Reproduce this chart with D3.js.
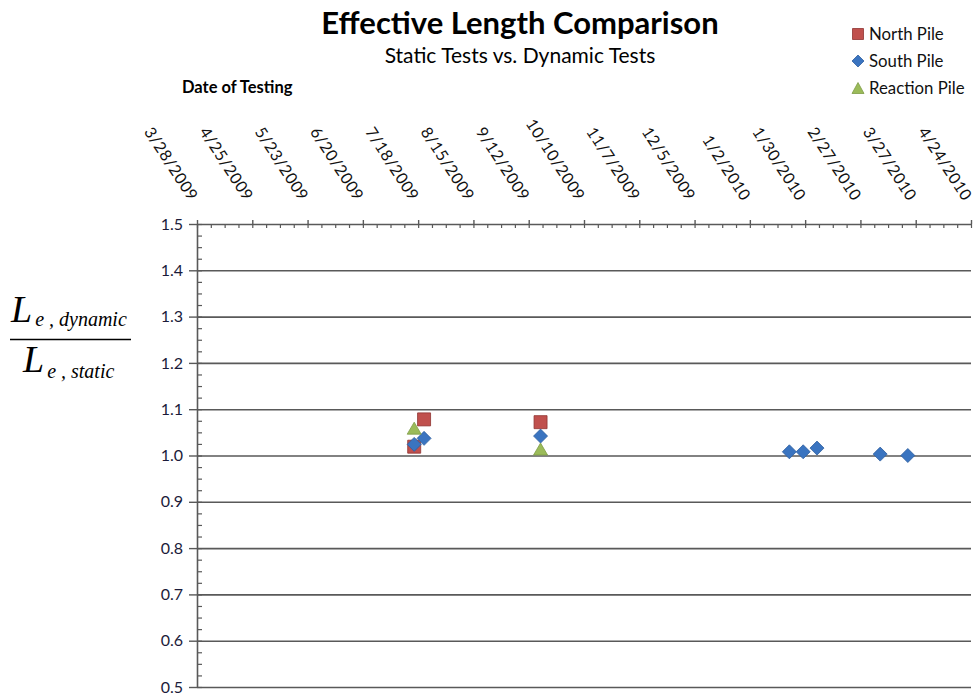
<!DOCTYPE html>
<html>
<head>
<meta charset="utf-8">
<script src="https://cdn.jsdelivr.net/npm/d3@7"></script>
<style>
  body { margin: 0; background: #fff; }
  svg { display: block; }
</style>
</head>
<body>
<svg id="chart" width="977" height="696"></svg>
<script>
// Effective length ratio (dynamic / static) per pile and test date
const northDates  = ["2009-07-16", "2009-07-21", "2009-09-18"];
const northValues = [1.019, 1.078, 1.072];

const southDates  = ["2009-07-16", "2009-07-21", "2009-09-18", "2010-01-22",
                     "2010-01-29", "2010-02-05", "2010-03-09", "2010-03-23"];
const southValues = [1.024, 1.037, 1.042, 1.008, 1.008, 1.016, 1.003, 1.000];

const reactionDates  = ["2009-07-16", "2009-09-18"];
const reactionValues = [1.059, 1.014];

const dateTickLabels = ["3/28/2009", "4/25/2009", "5/23/2009", "6/20/2009", "7/18/2009",
                        "8/15/2009", "9/12/2009", "10/10/2009", "11/7/2009", "12/5/2009",
                        "1/2/2010", "1/30/2010", "2/27/2010", "3/27/2010", "4/24/2010"];
const yTickValues = [0.5, 0.6, 0.7, 0.8, 0.9, 1.0, 1.1, 1.2, 1.3, 1.4, 1.5];

const seriesNames = ["North Pile", "South Pile", "Reaction Pile"];

const sans = "Lato, 'Open Sans', sans-serif";
const axisColor = "#595959";

const svg = d3.select("#chart");

const parseIso = d3.utcParse("%Y-%m-%d");
const parseTick = d3.utcParse("%m/%d/%Y");
const fmtTick = d3.utcFormat("%-m/%-d/%Y");

const plot = { left: 197, right: 971, top: 224, bottom: 687 };

const majorDates = dateTickLabels.map(parseTick);
const x = d3.scaleUtc()
  .domain([majorDates[0], majorDates[majorDates.length - 1]])
  .range([plot.left, plot.right]);
const y = d3.scaleLinear().domain([0.5, 1.5]).range([plot.bottom, plot.top]);

// weekly minor ticks along the date axis
const spanDays = d3.utcDay.count(majorDates[0], majorDates[majorDates.length - 1]);
const minorDates = d3.range(0, spanDays + 1, 7).map(d => d3.utcDay.offset(majorDates[0], d));
const minorY = d3.range(0, 41).map(i => 0.5 + i * 0.025);

// horizontal gridlines
svg.append("g")
  .attr("transform", `translate(${plot.left},0)`)
  .call(d3.axisLeft(y).tickValues(yTickValues.slice(0, -1))
    .tickSize(-(plot.right - plot.left)).tickFormat(""))
  .call(g => g.select(".domain").remove())
  .call(g => g.selectAll("line").attr("stroke", axisColor).attr("stroke-width", 1.6));

// y axis: minor ticks inside, major ticks outside with labels
svg.append("g")
  .attr("transform", `translate(${plot.left},0)`)
  .call(d3.axisRight(y).tickValues(minorY).tickSize(5).tickFormat(""))
  .call(g => g.select(".domain").remove())
  .call(g => g.selectAll("line").attr("stroke", axisColor).attr("stroke-width", 1.2));

svg.append("g")
  .attr("transform", `translate(${plot.left},0)`)
  .call(d3.axisLeft(y).tickValues(yTickValues).tickSize(8).tickPadding(6)
    .tickFormat(d3.format(".1f")).tickSizeOuter(0))
  .call(g => g.select(".domain").attr("stroke", axisColor).attr("stroke-width", 1.6))
  .call(g => g.selectAll("line").attr("stroke", axisColor).attr("stroke-width", 1.4))
  .call(g => g.selectAll("text")
    .attr("fill", "#1b1b3a").attr("font-family", sans).attr("font-size", 16));

// date axis along the top edge
svg.append("g")
  .attr("transform", `translate(0,${plot.top})`)
  .call(d3.axisBottom(x).tickValues(minorDates).tickSize(4).tickFormat("").tickSizeOuter(0))
  .call(g => g.select(".domain").attr("stroke", axisColor).attr("stroke-width", 1.6))
  .call(g => g.selectAll("line").attr("stroke", axisColor).attr("stroke-width", 1.2));

svg.append("g")
  .attr("transform", `translate(0,${plot.top})`)
  .call(d3.axisTop(x).tickValues(majorDates).tickSize(4).tickFormat("").tickSizeOuter(0))
  .call(g => g.select(".domain").remove())
  .call(g => g.selectAll("line").attr("stroke", axisColor).attr("stroke-width", 1.4));

// rotated date labels above the axis
svg.append("g")
  .selectAll("text")
  .data(majorDates)
  .join("text")
  .attr("transform", d => `translate(${x(d) - 3},${plot.top - 25}) rotate(57)`)
  .attr("text-anchor", "end")
  .attr("dy", "0.35em")
  .attr("font-family", sans)
  .attr("font-size", 16)
  .attr("letter-spacing", 0.5)
  .attr("fill", "#111")
  .text(d => fmtTick(d));

// markers
const markerColors = { north: "#C0504D", south: "#3A74C0", reaction: "#9BBB59" };
const markerStroke = { north: "#8F3431", south: "#2E5E9E", reaction: "#7E9C45" };

function squarePath(s) { const h = s / 2; return `M${-h},${-h}H${h}V${h}H${-h}Z`; }
function diamondPath(s) { const h = s / 2; return `M0,${-h}L${h},0L0,${h}L${-h},0Z`; }
function trianglePath(w, hgt) { return `M0,${-hgt / 2}L${w / 2},${hgt / 2}L${-w / 2},${hgt / 2}Z`; }

const shapes = {
  north: squarePath(13),
  south: diamondPath(14),
  reaction: trianglePath(14, 12)
};

function drawSeries(key, dates, values) {
  const pts = dates.map((d, i) => ({ date: parseIso(d), value: values[i] }));
  svg.append("g")
    .selectAll("path")
    .data(pts)
    .join("path")
    .attr("transform", p => `translate(${x(p.date)},${y(p.value)})`)
    .attr("d", shapes[key])
    .attr("fill", markerColors[key])
    .attr("stroke", markerStroke[key])
    .attr("stroke-width", 0.8);
}

drawSeries("north", northDates, northValues);
drawSeries("south", southDates, southValues);
drawSeries("reaction", reactionDates, reactionValues);

// legend
const legend = svg.append("g").attr("transform", "translate(858,34)");
["north", "south", "reaction"].forEach((key, i) => {
  const row = legend.append("g").attr("transform", `translate(0,${i * 27})`);
  const path = key === "north" ? squarePath(11) : key === "south" ? diamondPath(12) : trianglePath(12, 11);
  row.append("path").attr("d", path)
    .attr("fill", markerColors[key]).attr("stroke", markerStroke[key]).attr("stroke-width", 0.8);
  row.append("text").attr("x", 11).attr("dy", "0.35em")
    .attr("font-family", sans).attr("font-size", 16.8).attr("fill", "#111")
    .text(seriesNames[i]);
});

// titles
svg.append("text")
  .attr("x", 520).attr("y", 34)
  .attr("text-anchor", "middle")
  .attr("font-family", sans).attr("font-weight", "bold").attr("font-size", 31)
  .attr("fill", "#000")
  .text("Effective Length Comparison");

svg.append("text")
  .attr("x", 520).attr("y", 63)
  .attr("text-anchor", "middle")
  .attr("font-family", sans).attr("font-size", 21)
  .attr("fill", "#000")
  .text("Static Tests vs. Dynamic Tests");

svg.append("text")
  .attr("x", 182).attr("y", 93)
  .attr("font-family", sans).attr("font-weight", "bold").attr("font-size", 16.5)
  .attr("fill", "#000")
  .text("Date of Testing");

// y-axis label: ratio of effective lengths
const serif = "'Liberation Serif', 'DejaVu Serif', serif";
const yl = svg.append("g").attr("font-family", serif).attr("font-style", "italic").attr("fill", "#000");
const num = yl.append("text").attr("x", 11).attr("y", 322);
num.append("tspan").attr("font-size", 38).text("L");
num.append("tspan").attr("font-size", 20).attr("dx", 3).attr("dy", 4).text("e , dynamic");
yl.append("line")
  .attr("x1", 10).attr("x2", 131).attr("y1", 339.5).attr("y2", 339.5)
  .attr("stroke", "#000").attr("stroke-width", 1.5);
const den = yl.append("text").attr("x", 23).attr("y", 372);
den.append("tspan").attr("font-size", 38).text("L");
den.append("tspan").attr("font-size", 20).attr("dx", 3).attr("dy", 6).text("e , static");
</script>
</body>
</html>
